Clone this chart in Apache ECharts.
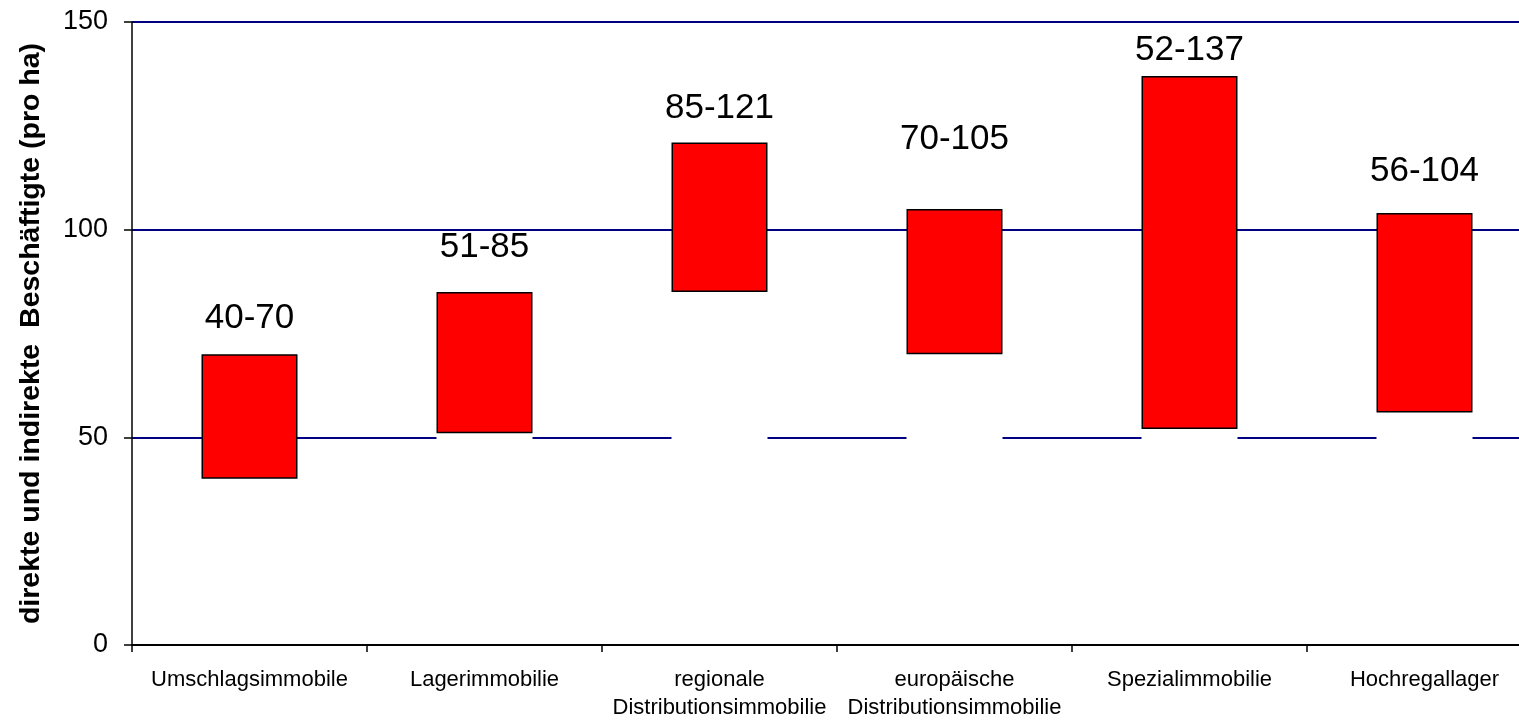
<!DOCTYPE html>
<html>
<head>
<meta charset="utf-8">
<script src="https://cdn.jsdelivr.net/npm/echarts@6/dist/echarts.min.js"></script>
<style>
  html, body { margin: 0; padding: 0; background: #ffffff; overflow: hidden; }
  /* the drawing surface is a little wider than the window; the plot runs past the right edge */
  #chart { width: 1560px; height: 722px; }
</style>
</head>
<body>
<div id="chart"></div>
<script>
// Beschäftigte je Hektar nach Immobilientyp (Spannweite von-bis)
const categories = [
  'Umschlagsimmobile',
  'Lagerimmobilie',
  'regionale\nDistributionsimmobilie',
  'europäische\nDistributionsimmobilie',
  'Spezialimmobilie',
  'Hochregallager'
];
const lowValues = [40, 51, 85, 70, 52, 56];
const highValues = [70, 85, 121, 105, 137, 104];
const yMin = 0;
const yMax = 150;
const yStep = 50;

// vertical lift (px) of each range label above its bar
const labelLift = [36, 45, 34, 70, 26, 42];

const FONT = '"Liberation Sans", Arial, Helvetica, sans-serif';

const spanData = highValues.map((h, i) => ({
  value: h - lowValues[i],
  label: { offset: [0, -labelLift[i]] }
}));

const chart = echarts.init(document.getElementById('chart'), null, { renderer: 'canvas' });

chart.setOption({
  animation: false,
  backgroundColor: '#ffffff',
  grid: { left: 132, top: 22, width: 1410, bottom: 74, containLabel: false },
  xAxis: {
    type: 'category',
    data: categories,
    z: 5,
    axisLine: { lineStyle: { color: '#000000', width: 2 } },
    axisTick: { show: true, alignWithLabel: false, length: 7, lineStyle: { color: '#000000', width: 1.5 } },
    axisLabel: {
      interval: 0,
      margin: 21,
      color: '#000000',
      fontFamily: FONT,
      fontSize: 22,
      lineHeight: 28
    },
    splitLine: { show: false }
  },
  yAxis: {
    type: 'value',
    min: yMin,
    max: yMax,
    interval: yStep,
    name: 'direkte und indirekte  Beschäftigte (pro ha)',
    nameLocation: 'middle',
    nameGap: 86,
    nameTextStyle: {
      color: '#000000',
      fontFamily: FONT,
      fontSize: 28.5,
      fontWeight: 'bold'
    },
    axisLine: { show: true, lineStyle: { color: '#000000', width: 1.5 } },
    axisTick: { show: true, inside: false, length: 8, lineStyle: { color: '#000000', width: 1.5 } },
    axisLabel: {
      margin: 24,
      color: '#000000',
      fontFamily: FONT,
      fontSize: 27
    },
    splitLine: { show: true, lineStyle: { color: '#000080', width: 2 } }
  },
  series: [
    {
      // invisible base from 0 up to the lower bound
      name: 'base',
      type: 'bar',
      stack: 'range',
      silent: true,
      barWidth: 96,
      itemStyle: { color: '#ffffff', borderWidth: 0 },
      data: lowValues
    },
    {
      name: 'Spanne',
      type: 'bar',
      stack: 'range',
      barWidth: 96,
      itemStyle: { color: '#ff0000', borderColor: '#000000', borderWidth: 1.5 },
      label: {
        show: true,
        position: 'top',
        distance: 0,
        verticalAlign: 'middle',
        color: '#000000',
        fontFamily: FONT,
        fontSize: 35,
        formatter: p => lowValues[p.dataIndex] + '-' + highValues[p.dataIndex]
      },
      data: spanData
    }
  ]
});
</script>
</body>
</html>
